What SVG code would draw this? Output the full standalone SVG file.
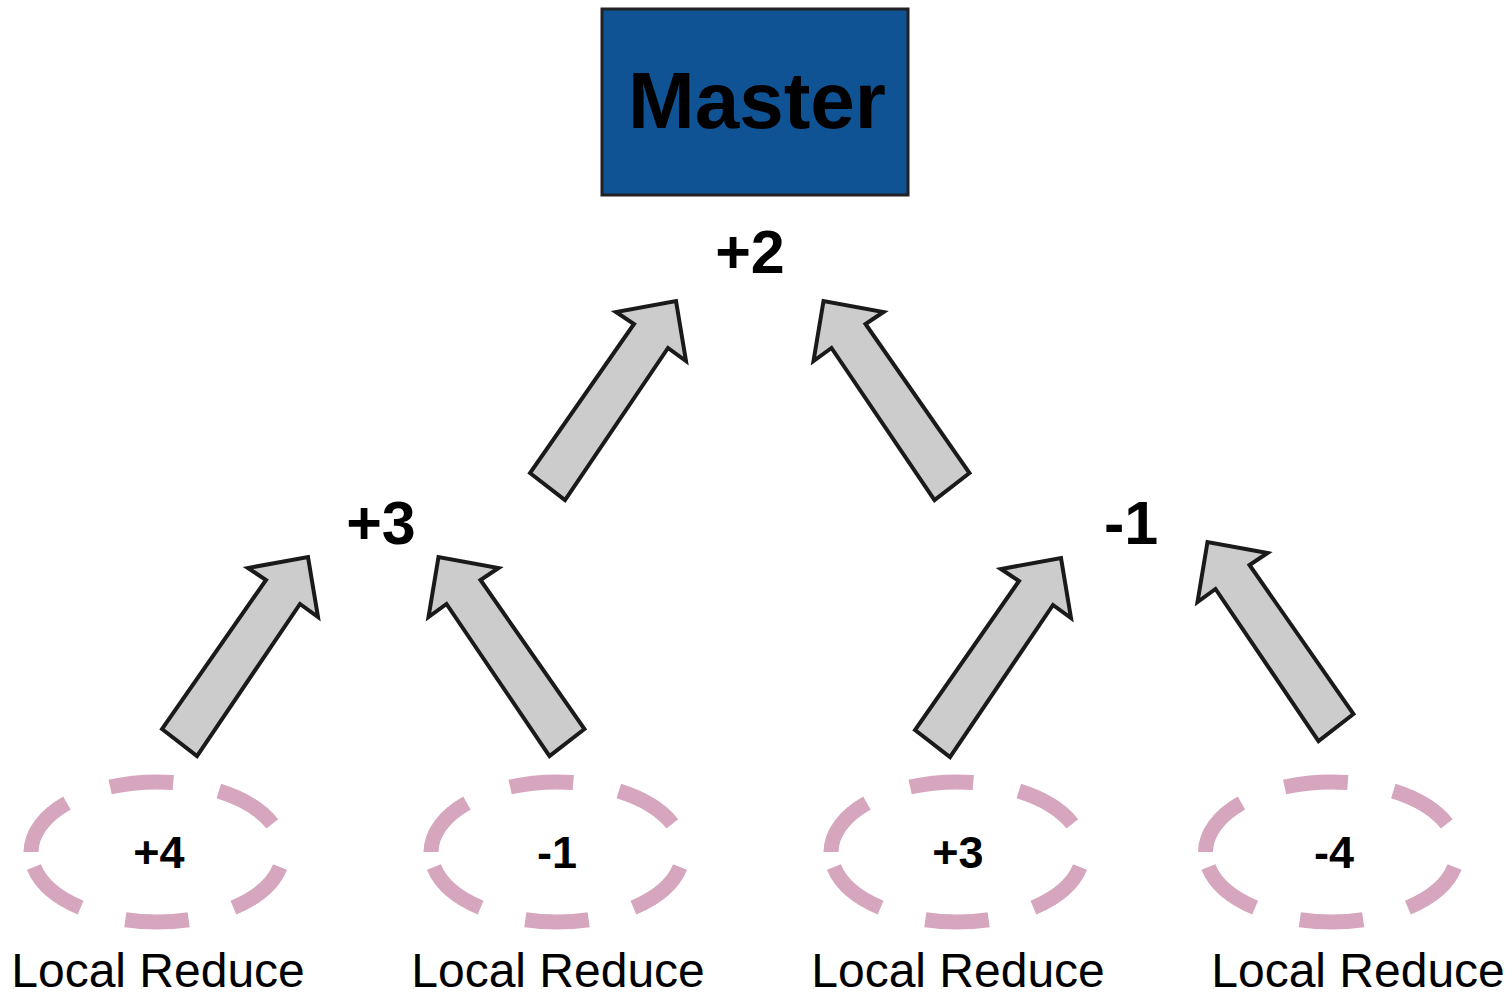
<svg xmlns="http://www.w3.org/2000/svg" xmlns:xlink="http://www.w3.org/1999/xlink" width="1509" height="993" viewBox="0 0 1509 993">
  <style>
    .bold { font-family: "Liberation Sans", Arial, sans-serif; font-weight: bold; fill: #000; text-anchor: middle; }
    .label { font-family: "Liberation Sans", Arial, sans-serif; font-size: 48px; fill: #000; text-anchor: middle; }
    .val { font-size: 45px; }
    .sum { font-size: 61px; }
    .ring { fill: none; stroke: #d5a6bd; stroke-width: 15; stroke-dasharray: 62 45 62 45 62 45 62 45 62 45 62 15; stroke-dashoffset: 597; }
    .flow { fill: #cccccc; stroke: #1a1a1a; stroke-width: 4; stroke-linejoin: miter; }
  </style>
  <defs>
    <!-- block arrow pointing up and to the right -->
    <polygon id="arrowUR" class="flow" points="530,473 565,500 668,348 686,361 676,301 616,312 634,324"/>
    <!-- same arrow mirrored to point up and to the left -->
    <g id="arrowUL" transform="translate(1499.5,0) scale(-1,1)">
      <use xlink:href="#arrowUR"/>
    </g>
  </defs>

  <rect width="1509" height="993" fill="#ffffff"/>

  <g id="connectors">
    <use xlink:href="#arrowUR"/>
    <use xlink:href="#arrowUL"/>
    <use xlink:href="#arrowUR" transform="translate(-368,256)"/>
    <use xlink:href="#arrowUL" transform="translate(-385,256)"/>
    <use xlink:href="#arrowUR" transform="translate(385,257)"/>
    <use xlink:href="#arrowUL" transform="translate(384,241)"/>
  </g>

  <g id="master">
    <rect x="602" y="9" width="306" height="186" fill="#0f5395" stroke="#222222" stroke-width="3"/>
    <text class="bold" x="757" y="128" font-size="80">Master</text>
  </g>

  <g id="sum-total">
    <text class="bold sum" x="750" y="273">+2</text>
  </g>
  <g id="sum-left">
    <text class="bold sum" x="381" y="544">+3</text>
  </g>
  <g id="sum-right">
    <text class="bold sum" x="1131" y="544">-1</text>
  </g>

  <g id="worker-1">
    <ellipse class="ring" cx="157" cy="852" rx="126" ry="70" pathLength="612" transform="translate(314,0) scale(-1,1)"/>
    <text class="bold val" x="159" y="868">+4</text>
    <text class="label" x="158" y="987">Local Reduce</text>
  </g>
  <g id="worker-2">
    <ellipse class="ring" cx="557" cy="852" rx="126" ry="70" pathLength="612" transform="translate(1114,0) scale(-1,1)"/>
    <text class="bold val" x="557" y="868">-1</text>
    <text class="label" x="558" y="987">Local Reduce</text>
  </g>
  <g id="worker-3">
    <ellipse class="ring" cx="957" cy="852" rx="126" ry="70" pathLength="612" transform="translate(1914,0) scale(-1,1)"/>
    <text class="bold val" x="958" y="868">+3</text>
    <text class="label" x="958" y="987">Local Reduce</text>
  </g>
  <g id="worker-4">
    <ellipse class="ring" cx="1331.5" cy="852" rx="126" ry="70" pathLength="612" transform="translate(2663,0) scale(-1,1)"/>
    <text class="bold val" x="1334" y="868">-4</text>
    <text class="label" x="1358" y="987">Local Reduce</text>
  </g>
</svg>
